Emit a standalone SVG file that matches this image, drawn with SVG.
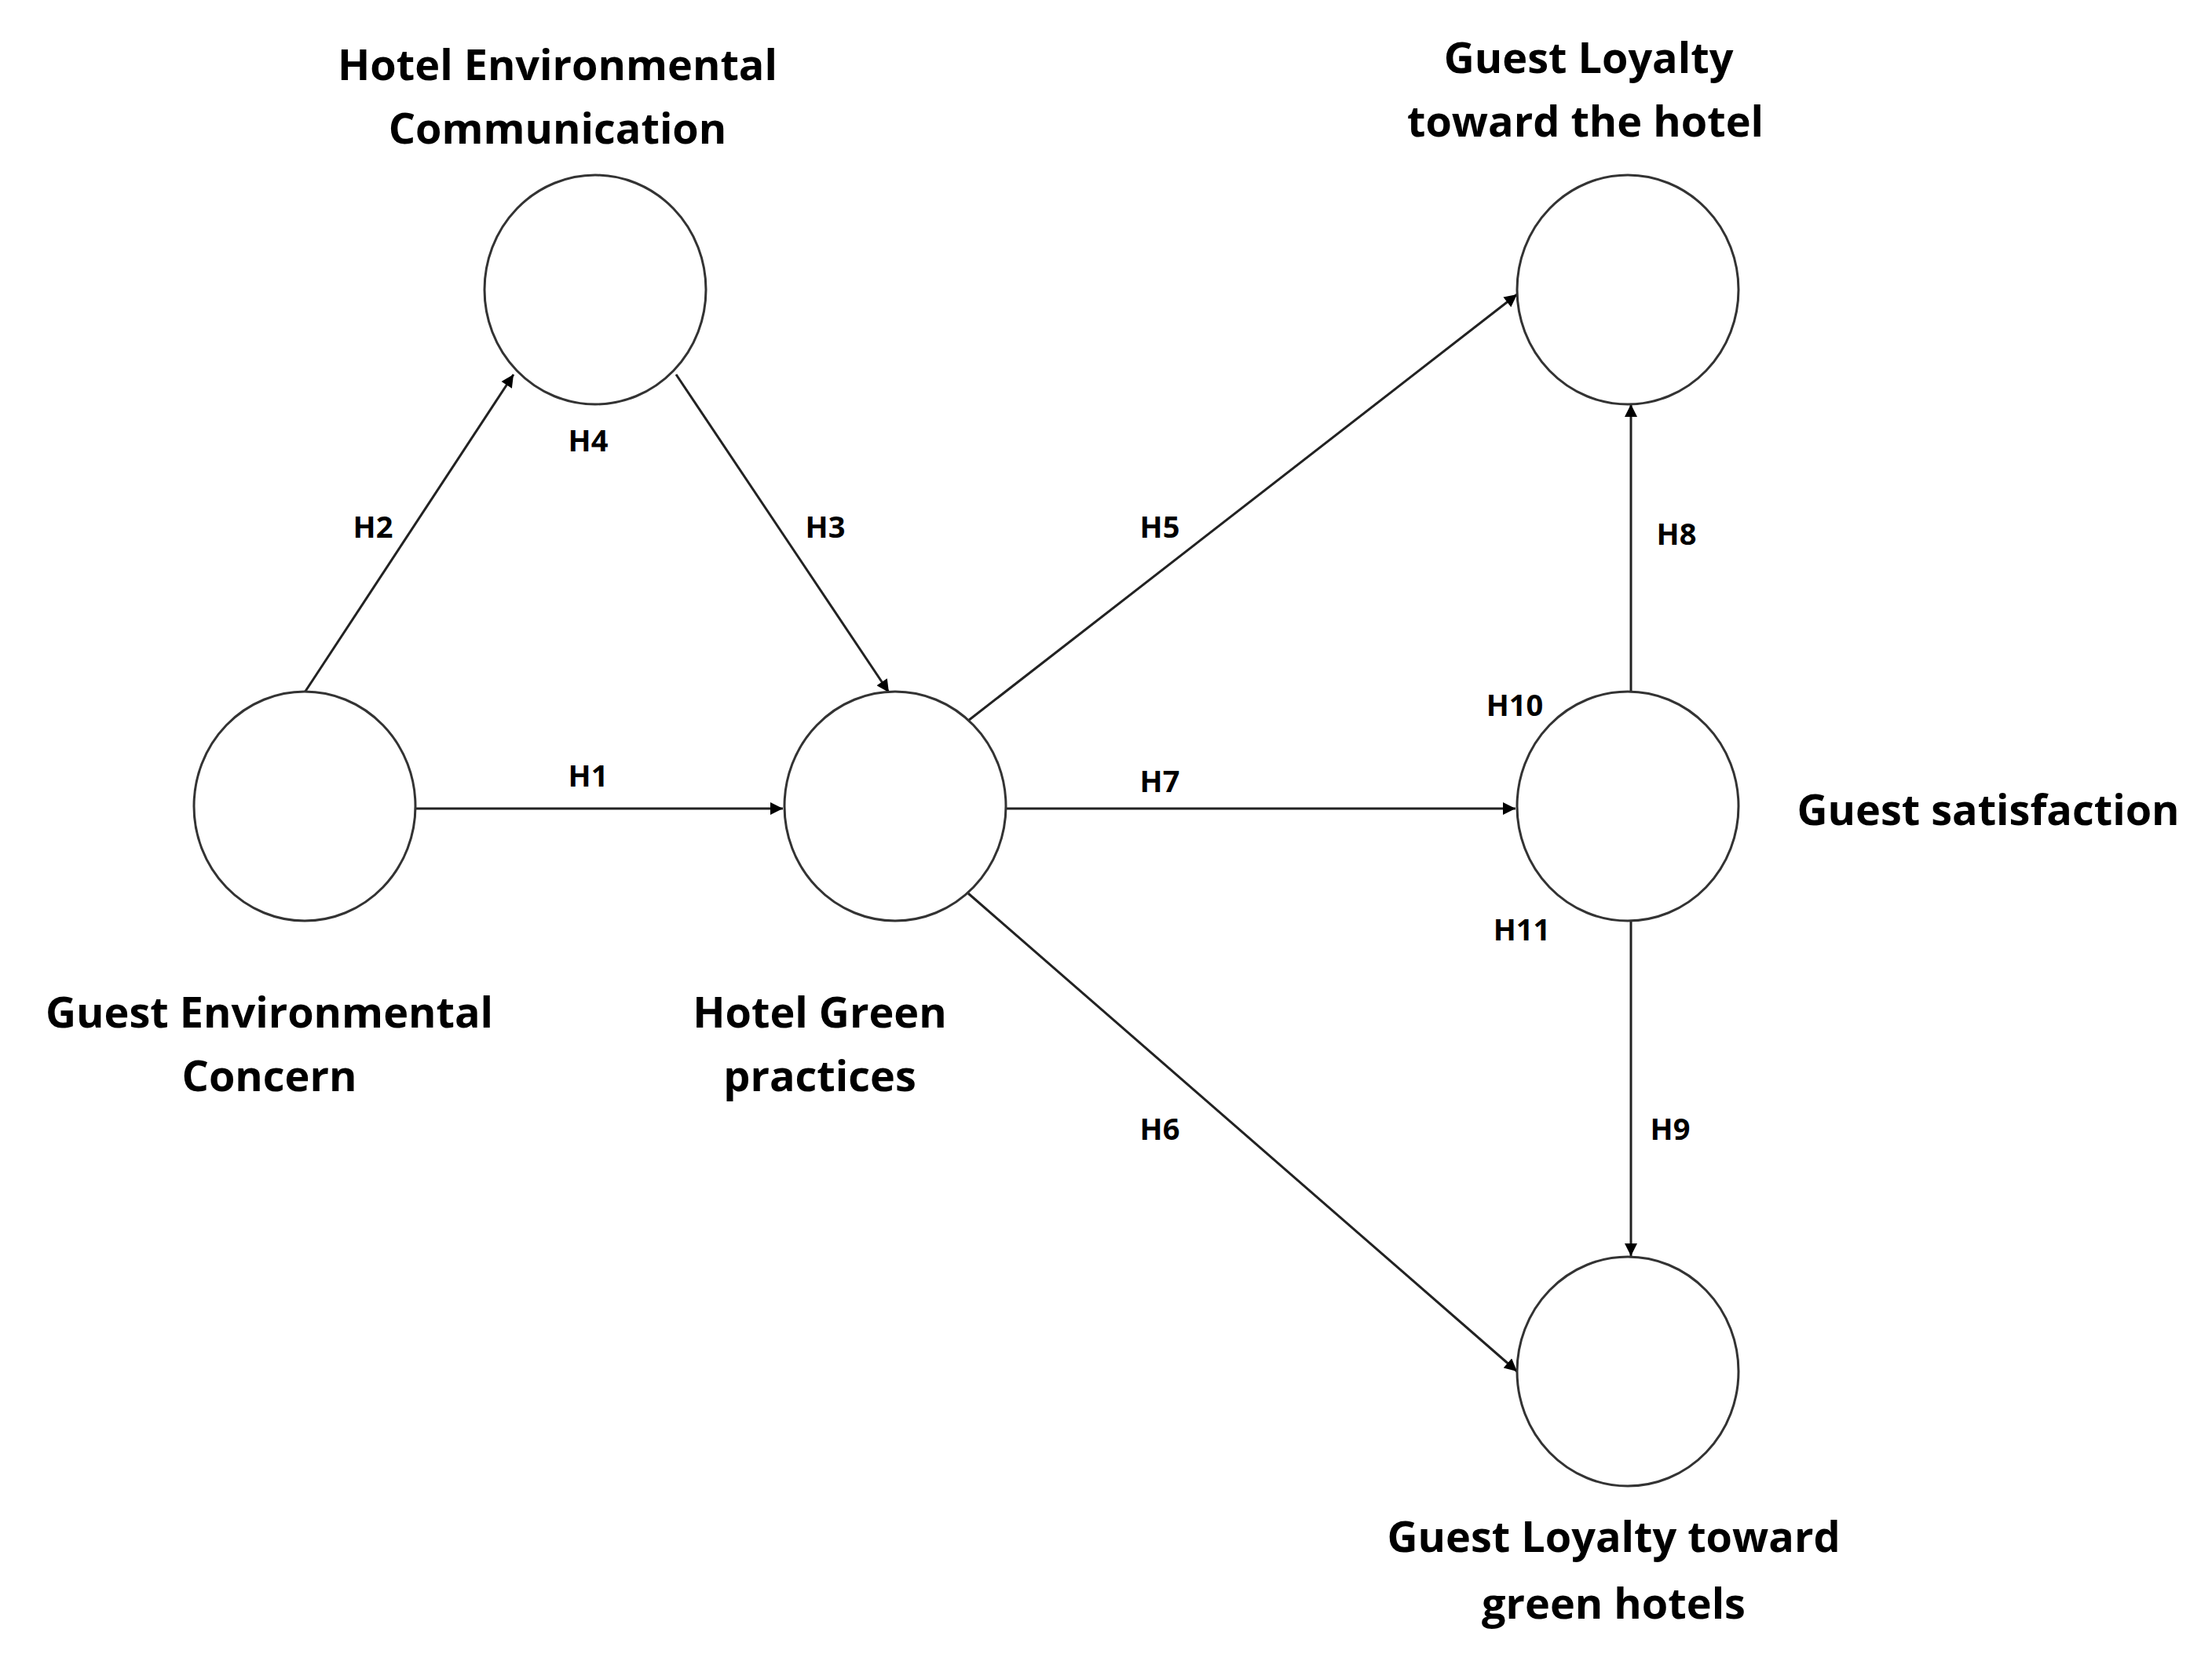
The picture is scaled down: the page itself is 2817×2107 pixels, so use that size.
<svg xmlns="http://www.w3.org/2000/svg" width="2817" height="2107" viewBox="0 0 2817 2107">
<style>
.n{fill:#fff;stroke:#333;stroke-width:3}
.e{stroke:#222;stroke-width:3;fill:none;marker-end:url(#a)}
.t{font-family:"Open Sans","Liberation Sans",sans-serif;font-weight:bold;font-size:54px;text-anchor:middle;dominant-baseline:central;fill:#000}
.h{font-family:"Open Sans","Liberation Sans",sans-serif;font-weight:bold;font-size:38px;text-anchor:middle;dominant-baseline:central;fill:#000}
</style>
<defs><marker id="a" markerWidth="8" markerHeight="8" refX="7" refY="4" orient="auto" markerUnits="userSpaceOnUse" viewBox="0 0 8 8"><path d="M0,0L8,4L0,8z" fill="#000"/></marker>
<marker id="b" viewBox="0 0 10 10" refX="10" refY="5" markerWidth="18" markerHeight="16" orient="auto" markerUnits="userSpaceOnUse"><path d="M0,0L10,5L0,10z" fill="#000"/></marker></defs>
<rect width="2817" height="2107" fill="#fff"/>
<g id="connectors" style="marker-end:url(#b)">
<line class="e" style="marker-end:url(#b)" x1="388" y1="882" x2="654" y2="477"/>
<line class="e" style="marker-end:url(#b)" x1="861" y1="477" x2="1132" y2="882"/>
<line class="e" style="marker-end:url(#b)" x1="529" y1="1030" x2="997" y2="1030"/>
<line class="e" style="marker-end:url(#b)" x1="1233" y1="918" x2="1932" y2="375"/>
<line class="e" style="marker-end:url(#b)" x1="1281" y1="1030" x2="1930" y2="1030"/>
<line class="e" style="marker-end:url(#b)" x1="1233" y1="1138" x2="1932" y2="1747"/>
<line class="e" style="marker-end:url(#b)" x1="2077" y1="882" x2="2077" y2="515"/>
<line class="e" style="marker-end:url(#b)" x1="2077" y1="1174" x2="2077" y2="1600"/>
</g>
<g id="labels">
<text class="h" x="749" y="560">H4</text><text class="h" x="475" y="670">H2</text>
<text class="h" x="1051" y="670">H3</text><text class="h" x="749" y="987">H1</text>
<text class="h" x="1477" y="670">H5</text><text class="h" x="1477" y="994">H7</text>
<text class="h" x="1477" y="1437">H6</text><text class="h" x="2135" y="679">H8</text>
<text class="h" x="1929" y="897">H10</text><text class="h" x="1938" y="1183">H11</text>
<text class="h" x="2127" y="1437">H9</text>
</g>
<g id="gec"><ellipse class="n" cx="388" cy="1027" rx="141" ry="146"/><text class="t" x="343" y="1288">Guest Environmental</text><text class="t" x="343" y="1369">Concern</text></g>
<g id="hec"><ellipse class="n" cx="758" cy="369" rx="141" ry="146"/><text class="t" x="710" y="81">Hotel Environmental</text><text class="t" x="710" y="162">Communication</text></g>
<g id="hgp"><ellipse class="n" cx="1140" cy="1027" rx="141" ry="146"/><text class="t" x="1044" y="1288">Hotel Green</text><text class="t" x="1044" y="1369">practices</text></g>
<g id="glh"><ellipse class="n" cx="2073" cy="369" rx="141" ry="146"/><text class="t" x="2023" y="72">Guest Loyalty</text><text class="t" x="2019" y="153">toward the hotel</text></g>
<g id="gs"><ellipse class="n" cx="2073" cy="1027" rx="141" ry="146"/><text class="t" x="2532" y="1030">Guest satisfaction</text></g>
<g id="glg"><ellipse class="n" cx="2073" cy="1747" rx="141" ry="146"/><text class="t" x="2055" y="1956">Guest Loyalty toward</text><text class="t" x="2055" y="2041">green hotels</text></g>
</svg>
